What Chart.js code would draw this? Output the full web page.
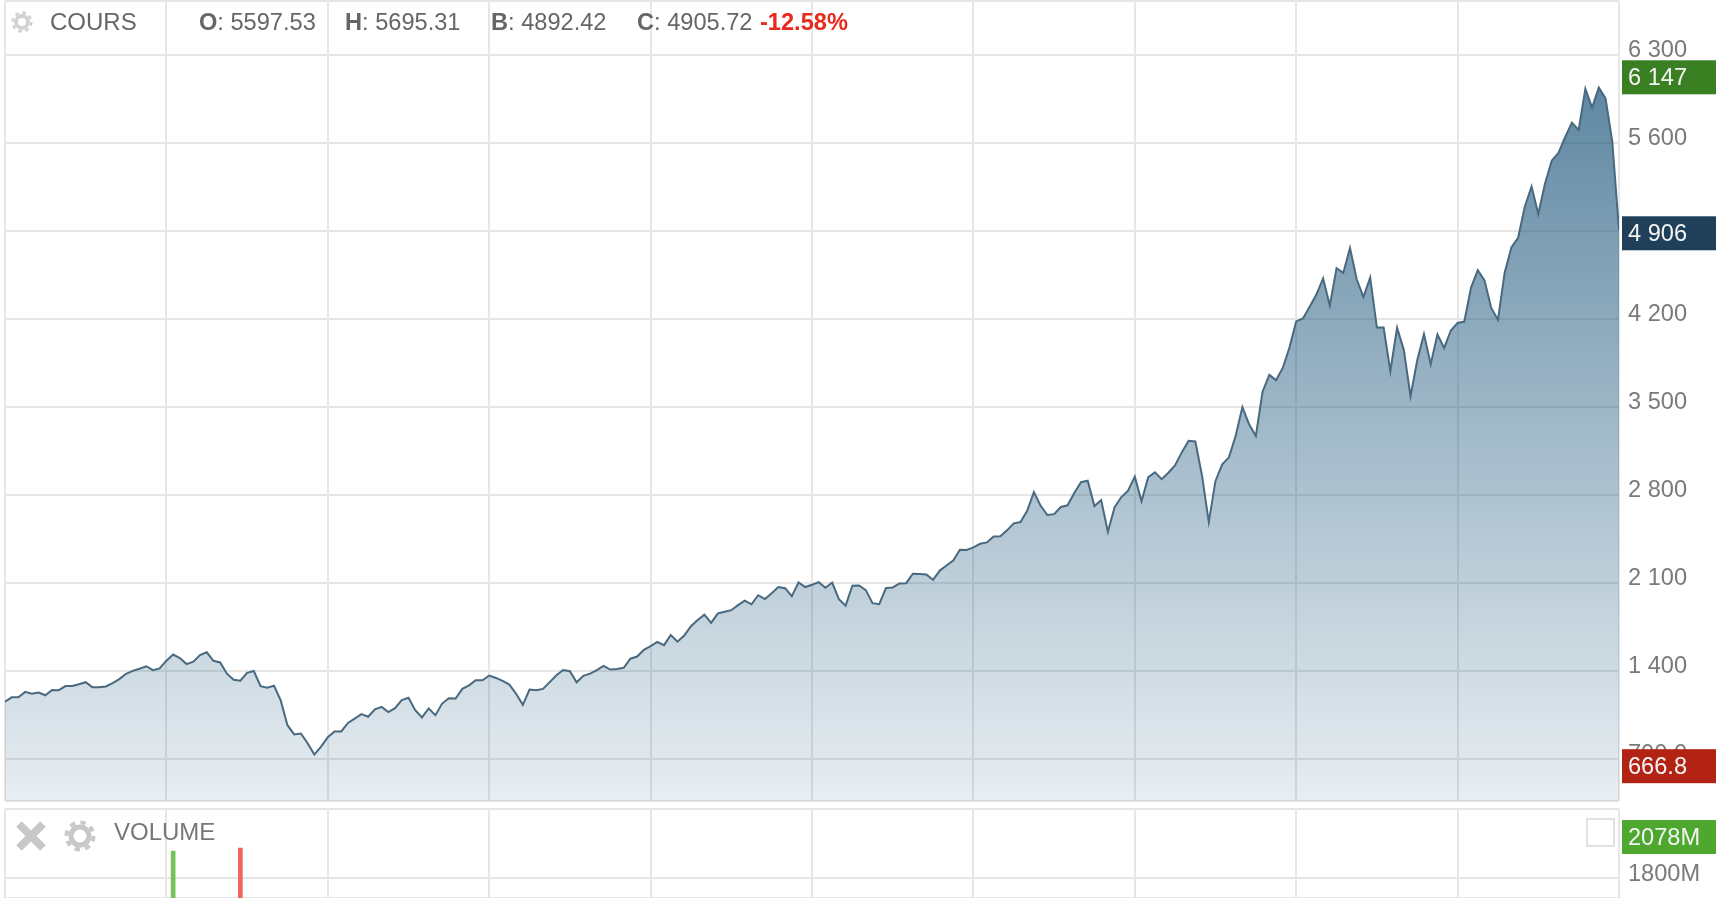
<!DOCTYPE html>
<html>
<head>
<meta charset="utf-8">
<title>COURS</title>
<script src="https://cdn.jsdelivr.net/npm/chart.js@4"></script>
<style>
    html, body { margin: 0; padding: 0; background: #fff; overflow: hidden; }
    #page { position: relative; width: 1730px; height: 898px; overflow: hidden; font-family: "Liberation Sans", Arial, sans-serif; filter: blur(0.55px); }
    canvas { position: absolute; left: 0; }
    #priceChart { top: 0; }
    #volumeChart { top: 808px; }
    .txt { position: absolute; font-size: 23.6px; line-height: 28px; color: #666; white-space: nowrap; }
    .red { color: #e8291c; font-weight: bold; }
    .check { position: absolute; left: 1586px; top: 818px; width: 25px; height: 25px; border: 2px solid #e2e2e2; background: #fff; }
    svg { position: absolute; }
</style>
</head>
<body>
<div id="page">
    <canvas id="priceChart" width="1730" height="808"></canvas>
    <canvas id="volumeChart" width="1730" height="90"></canvas>

    <svg style="left:10px;top:10px" width="24" height="24" viewBox="0 0 22 22"><circle cx="11" cy="11" r="5.5" fill="none" stroke="#d2d2d2" stroke-width="3.5"/><circle cx="11" cy="11" r="8.5" fill="none" stroke="#d2d2d2" stroke-width="2.5" stroke-dasharray="3.4 3.27"/></svg>
    <div class="txt" style="left:50px;top:8px;font-size:24px">COURS</div>
    <div class="txt" style="left:199px;top:8px"><b>O</b>: 5597.53</div>
    <div class="txt" style="left:345px;top:8px"><b>H</b>: 5695.31</div>
    <div class="txt" style="left:491px;top:8px"><b>B</b>: 4892.42</div>
    <div class="txt" style="left:637px;top:8px"><b>C</b>: 4905.72</div>
    <div class="txt red" style="left:760px;top:8px">-12.58%</div>

    <svg style="left:15px;top:821px" width="32" height="30" viewBox="0 0 32 30"><path d="M4 3 L28 27 M28 3 L4 27" stroke="#c8c8c8" stroke-width="8"/></svg>
    <svg style="left:63px;top:819px" width="34" height="34" viewBox="0 0 34 34"><circle cx="17" cy="17" r="9" fill="none" stroke="#c8c8c8" stroke-width="5"/><circle cx="17" cy="17" r="13.5" fill="none" stroke="#c8c8c8" stroke-width="4" stroke-dasharray="5.3 5.3"/></svg>
    <div class="txt" style="left:114px;top:818px;font-size:24px;color:#777">VOLUME</div>
    <div class="check"></div>
</div>

<script>
// month closes, first point on the left edge, last one on the right edge
var closeValues = [
    1157, 1191, 1191, 1234, 1220, 1229, 1207, 1249, 1248,
    1280, 1281, 1295, 1311, 1270, 1270, 1277, 1304, 1336, 1378, 1401, 1418,
    1438, 1407, 1421, 1482, 1531, 1503, 1455, 1474, 1527, 1549, 1481, 1468,
    1379, 1331, 1323, 1386, 1400, 1280, 1267, 1283, 1166, 969, 896, 903,
    826, 735, 798, 873, 919, 919, 987, 1021, 1057, 1036, 1096, 1115,
    1074, 1104, 1169, 1187, 1089, 1031, 1102, 1049, 1141, 1183, 1181, 1258,
    1286, 1327, 1326, 1364, 1345, 1321, 1292, 1219, 1131, 1253, 1247, 1258,
    1312, 1366, 1408, 1398, 1310, 1362, 1379, 1407, 1441, 1412, 1416, 1426,
    1498, 1515, 1569, 1598, 1631, 1606, 1686, 1633, 1682, 1757, 1806, 1848,
    1783, 1859, 1872, 1884, 1924, 1960, 1931, 2003, 1972, 2018, 2068, 2059,
    1995, 2105, 2068, 2086, 2107, 2063, 2104, 1972, 1920, 2079, 2080, 2044,
    1940, 1932, 2060, 2065, 2097, 2099, 2174, 2171, 2168, 2126, 2199, 2239,
    2279, 2364, 2363, 2384, 2412, 2423, 2470, 2472, 2519, 2575, 2585, 2674,
    2824, 2714, 2641, 2648, 2705, 2718, 2816, 2902, 2914, 2712, 2760, 2507,
    2704, 2784, 2834, 2946, 2750, 2942, 2980, 2926, 2977, 3038, 3141, 3231,
    3226, 2954, 2585, 2912, 3044, 3100, 3271, 3500, 3363, 3270, 3622, 3756,
    3714, 3811, 3973, 4181, 4204, 4298, 4395, 4523, 4308, 4605, 4567, 4766,
    4516, 4374, 4530, 4132, 4132, 3785, 4130, 3955, 3586, 3872, 4080, 3840,
    4077, 3970, 4109, 4169, 4180, 4450, 4589, 4508, 4288, 4194, 4568, 4770,
    4846, 5096, 5254, 5036, 5278, 5460, 5522, 5648, 5762, 5705, 6032, 5882,
    6041, 5955, 5612, 4906
];
var gridMonths = [0, 24, 48, 72, 96, 120, 144, 168, 192, 216, 240];

// 4 900 sits fully behind the 4 906 badge in the reference, so no label there
var priceTicks = [700, 1400, 2100, 2800, 3500, 4200, 4900, 5600, 6300];
var priceTickLabels = ["700.0", "1 400", "2 100", "2 800", "3 500", "4 200", "", "5 600", "6 300"];

var priceBadgeValues = [6147, 4906, 666.8];
var priceBadgeLabels = ["6 147", "4 906", "666.8"];
var priceBadgeColors = ["#3a7f22", "#1f4058", "#b22314"];

// only the two tallest bars reach into the visible part of the panel
var volumeMonths = [25, 35];
var volumeValues = [1971, 1990];
var volumeColors = ["#74c25c", "#f0665e"];
var volumeTicks = [1800];
var volumeTickLabels = ["1800M"];
var volumeBadgeValues = [2078];
var volumeBadgeLabels = ["2078M"];
var volumeBadgeColors = ["#4ea72e"];

var FONT = { family: '"Liberation Sans", Arial, sans-serif', size: 23.6 };
var GRID = "#e6e6e6";

function xAxis() {
    return {
        type: 'linear',
        offset: false,
        min: 0,
        max: closeValues.length - 1,
        afterBuildTicks: function (scale) {
            scale.ticks = gridMonths.map(function (m) { return { value: m }; });
        },
        afterFit: function (scale) {
            scale.height = 0;
            scale.paddingLeft = 0;
            scale.paddingRight = 0;
        },
        ticks: { display: false, autoSkip: false },
        grid: { color: GRID, lineWidth: 2, drawTicks: false, offset: false },
        border: { display: false }
    };
}

function yAxis(min, max, tickValues, tickLabels, labelOffset) {
    return {
        type: 'linear',
        position: 'right',
        min: min,
        max: max,
        afterBuildTicks: function (scale) {
            scale.ticks = [min].concat(tickValues, [max]).map(function (v) { return { value: v }; });
        },
        afterFit: function (scale) {
            scale.width = 111;
            scale.paddingTop = 0;
            scale.paddingBottom = 0;
        },
        ticks: {
            autoSkip: false,
            padding: 9,
            labelOffset: labelOffset,
            color: "#7a7a7a",
            font: FONT,
            callback: function (value) {
                var i = tickValues.indexOf(value);
                return i < 0 ? "" : tickLabels[i];
            }
        },
        grid: { color: GRID, lineWidth: 2, drawTicks: false },
        border: { display: false }
    };
}

function badgesPlugin(values, labels, colors) {
    return {
        id: 'badges',
        afterDraw: function (chart) {
            var ctx = chart.ctx;
            ctx.save();
            ctx.font = FONT.size + 'px ' + FONT.family;
            ctx.textBaseline = 'middle';
            ctx.textAlign = 'left';
            values.forEach(function (v, i) {
                var y = chart.scales.y.getPixelForValue(v) + 3;
                ctx.fillStyle = colors[i];
                ctx.fillRect(1622, y - 17, 94, 34);
                ctx.fillStyle = "#f4f4f4";
                ctx.fillText(labels[i], 1628, y + 1);
            });
            ctx.restore();
        }
    };
}

function areaFill(context) {
    var chart = context.chart;
    if (!chart.chartArea) {
        return "rgba(31,88,125,0.3)";
    }
    var g = chart.ctx.createLinearGradient(0, chart.scales.y.getPixelForValue(6147), 0, chart.chartArea.bottom);
    g.addColorStop(0, "rgba(31,88,125,0.72)");
    g.addColorStop(1, "rgba(31,88,125,0.10)");
    return g;
}

var priceChart = new Chart(document.getElementById("priceChart"), {
    type: 'line',
    data: {
        labels: closeValues.map(function (v, i) { return i; }),
        datasets: [{
            label: "COURS",
            data: closeValues.map(function (v, i) { return { x: i, y: v }; }),
            borderColor: "#48697f",
            borderWidth: 2,
            backgroundColor: areaFill,
            fill: 'start',
            tension: 0,
            pointRadius: 0
        }]
    },
    options: {
        responsive: false,
        animation: false,
        layout: { padding: { left: 5, top: 1, right: 0, bottom: 7 } },
        plugins: { legend: { display: false }, tooltip: { enabled: false } },
        scales: { x: xAxis(), y: yAxis(366, 6730, priceTicks, priceTickLabels, -5) }
    },
    plugins: [badgesPlugin(priceBadgeValues, priceBadgeLabels, priceBadgeColors)]
});

var volumeChart = new Chart(document.getElementById("volumeChart"), {
    type: 'bar',
    data: {
        datasets: [{
            label: "VOLUME",
            data: volumeMonths.map(function (m, i) { return { x: m, y: volumeValues[i] }; }),
            backgroundColor: volumeColors,
            barThickness: 4
        }]
    },
    options: {
        responsive: false,
        animation: false,
        layout: { padding: { left: 5, top: 1, right: 0, bottom: 0 } },
        plugins: { legend: { display: false }, tooltip: { enabled: false } },
        scales: { x: xAxis(), y: yAxis(1674, 2236, volumeTicks, volumeTickLabels, -4) }
    },
    plugins: [badgesPlugin(volumeBadgeValues, volumeBadgeLabels, volumeBadgeColors)]
});
</script>
</body>
</html>
